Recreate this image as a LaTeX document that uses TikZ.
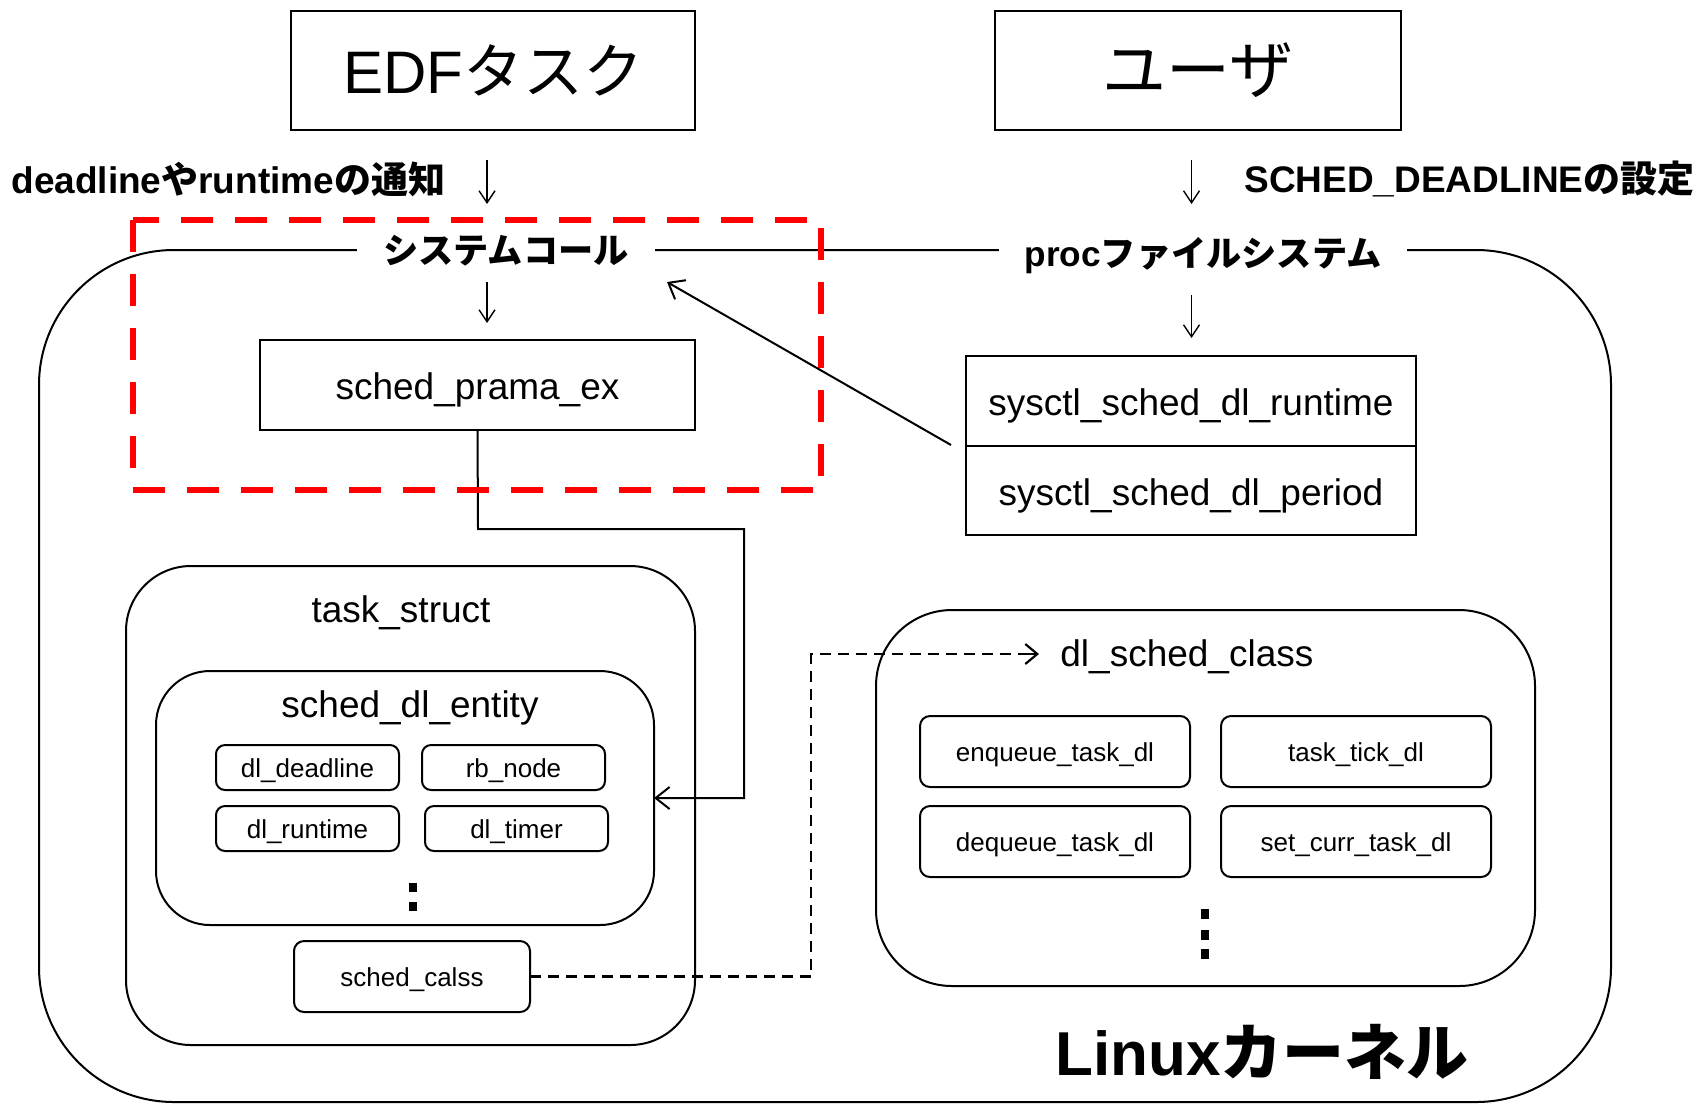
\documentclass[tikz,border=0pt]{standalone}
\usepackage{fontspec}
\setmainfont{Liberation Sans}
\newfontfamily\jpfont{Noto Sans CJK JP}
\newcommand\jtxt[1]{{\jpfont #1}}
\usetikzlibrary{arrows.meta}
\begin{document}
\begin{tikzpicture}[x=0.5pt,y=-0.5pt,
  box/.style={draw, line width=1pt, inner sep=0pt, outer sep=0pt, align=center},
  rbox/.style={box, rounded corners=#1},
  tbox/.style={box, text height=14.6pt, text depth=0pt},
  trbox/.style={rbox=#1, text height=10pt, text depth=0pt},
  bigtxt/.style={font=\fontsize{32}{36}\selectfont},
  midtxt/.style={font=\fontsize{18.5}{22}\selectfont},
  smalltxt/.style={font=\fontsize{13}{15}\selectfont},
  boldtxt/.style={font=\fontsize{18.5}{22}\selectfont\bfseries},
  lbltxt/.style={font=\fontsize{17.6}{21}\selectfont\bfseries},
  arr/.style={line width=1pt, -{Straight Barb[length=7pt,width=11pt]}},
  thinarr/.style={line width=0.7pt, -{Straight Barb[length=6pt,width=8pt]}},
  reddash/.style={draw=red, line width=2.75pt, dash pattern=on 16pt off 11pt},
  blkdash/.style={line width=1.1pt, dash pattern=on 5.5pt off 3.5pt},
  dotsq/.style={fill=black, inner sep=0pt, minimum width=4pt, minimum height=4.5pt},
  ]
\useasboundingbox (0,0) rectangle (1700,1104);

% kernel outline
\draw[line width=1pt, rounded corners=67.5pt] (39,250) rectangle (1611,1102);

% top boxes
\node[box, minimum width=202pt, minimum height=59.5pt, font=\fontsize{30}{34}\selectfont] (edf) at (493,70.5) {EDF\jtxt{タスク}};
\node[box, bigtxt, minimum width=203pt, minimum height=59.5pt] (user) at (1198,70.5) {\jtxt{ユーザ}};

% notes
\node[boldtxt, anchor=west, inner sep=0pt] (note1) at (11,179) {deadline\jtxt{や}runtime\jtxt{の通知}};
\node[boldtxt, anchor=east, inner sep=0pt] (note2) at (1695,179) {SCHED\_DEADLINE\jtxt{の設定}};

% labels on kernel top line
\node[lbltxt, fill=white, inner xsep=13pt, inner ysep=2pt] (syscall) at (506,251) {\jtxt{システムコール}};
\node[lbltxt, fill=white, inner xsep=13pt, inner ysep=2pt] (proc) at (1203,256) {proc\jtxt{ファイルシステム}};

% small arrows
\coordinate (a1s) at (487,160); \coordinate (a1e) at (487,204);
\coordinate (a2s) at (1191.5,160); \coordinate (a2e) at (1191.5,204);
\coordinate (a3s) at (487,282); \coordinate (a3e) at (487,323);
\coordinate (a4s) at (1191.5,295); \coordinate (a4e) at (1191.5,338);
\draw[thinarr] (a1s) -- (a1e);
\draw[thinarr] (a2s) -- (a2e);
\draw[thinarr] (a3s) -- (a3e);
\draw[thinarr] (a4s) -- (a4e);

% sched_prama_ex
\node[tbox, midtxt, minimum width=217.5pt, minimum height=45pt] (prama) at (477.5,385) {sched\_prama\_ex};

% sysctl boxes
\node[tbox, midtxt, minimum width=225pt, minimum height=45pt] (sysrt) at (1191,401) {sysctl\_sched\_dl\_runtime};
\node[tbox, midtxt, minimum width=225pt, minimum height=44.5pt, anchor=north] (syspd) at (sysrt.south) {sysctl\_sched\_dl\_period};

% task_struct
\node[rbox=32.5pt, minimum width=284.5pt, minimum height=239.5pt] (task) at (410.5,805.5) {};
\node[midtxt] (tasklbl) at (401,613) {task\_struct};
\node[rbox=27pt, minimum width=249pt, minimum height=127pt] (entity) at (405,798) {};
\node[midtxt] (entlbl) at (410,708) {sched\_dl\_entity};
\node[trbox=4.5pt, smalltxt, minimum width=91.5pt, minimum height=22.5pt] (ddl) at (307.5,767.5) {dl\_deadline};
\node[trbox=4.5pt, smalltxt, minimum width=91.5pt, minimum height=22.5pt] (rbn) at (513.5,767.5) {rb\_node};
\node[trbox=4.5pt, smalltxt, minimum width=91.5pt, minimum height=22.5pt] (drt) at (307.5,828.5) {dl\_runtime};
\node[trbox=4.5pt, smalltxt, minimum width=91.5pt, minimum height=22.5pt] (dtm) at (516.5,828.5) {dl\_timer};
\node[dotsq] (ed1) at (413,887) {};
\node[dotsq] (ed2) at (413,906.5) {};
\node[trbox=5pt, smalltxt, minimum width=118pt, minimum height=35.5pt] (calss) at (412,976.5) {sched\_calss};

% dl_sched_class
\node[rbox=38pt, minimum width=329.5pt, minimum height=188pt] (dlc) at (1205.5,798) {};
\node[midtxt, anchor=west, inner sep=0pt] (dlclbl) at (1060,657) {dl\_sched\_class};
\node[trbox=5pt, smalltxt, minimum width=135pt, minimum height=35.5pt] (enq) at (1055,751.5) {enqueue\_task\_dl};
\node[trbox=5pt, smalltxt, minimum width=135pt, minimum height=35.5pt] (tick) at (1356,751.5) {task\_tick\_dl};
\node[trbox=5pt, smalltxt, minimum width=135pt, minimum height=35.5pt] (deq) at (1055,841.5) {dequeue\_task\_dl};
\node[trbox=5pt, smalltxt, minimum width=135pt, minimum height=35.5pt] (setc) at (1356,841.5) {set\_curr\_task\_dl};
\node[dotsq, minimum height=5pt] (dd1) at (1205,914) {};
\node[dotsq, minimum height=5pt] (dd2) at (1205,934.5) {};
\node[dotsq, minimum height=5pt] (dd3) at (1205,953.5) {};

% Linux kernel label
\node[font=\fontsize{31}{35}\selectfont\bfseries] (linux) at (1262,1052) {Linux\jtxt{カーネル}};

% connectors
\coordinate (diagS) at (951,445);
\coordinate (diagE) at (667,282);
\draw[arr] (diagS) -- (diagE);
\draw[arr] (prama.south) -- (478,529) -- (744,529) -- (744,798) -- (entity.east);
\coordinate (dashE) at (1039,654);
\draw[blkdash] (calss.east) -- (811,976.5) -- (811,654) -- (1030,654);
\draw[line width=1.1pt, -{Straight Barb[length=6pt,width=10pt]}] (1025,654) -- (dashE);

% red dashed highlight
\draw[reddash] (133,220) rectangle (821,490);
\end{tikzpicture}
\end{document}
